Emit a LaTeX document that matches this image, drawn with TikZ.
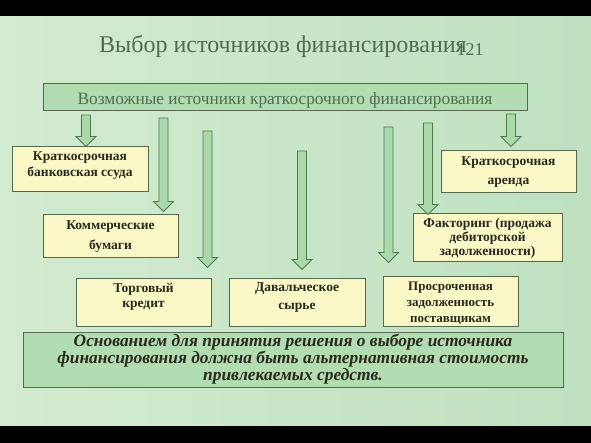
\documentclass[tikz,border=0pt]{standalone}
\usepackage{fontspec}
\setmainfont{Liberation Serif}
\usetikzlibrary{calc}
\definecolor{bgA}{HTML}{D3EBCF}
\definecolor{bgB}{HTML}{BFE1C0}
\definecolor{cream}{HTML}{FBF8C8}
\definecolor{gbox}{HTML}{B2DDB2}
\definecolor{edge}{HTML}{55694F}
\definecolor{arrfill}{HTML}{ABD9AB}
\definecolor{arredge}{HTML}{4E7A4E}
\definecolor{titlecol}{HTML}{4F6B50}
\definecolor{txt}{HTML}{2A281B}
\tikzset{
  cbox/.style={draw=edge, line width=1pt, fill=cream, inner sep=0pt},
  gbx/.style={draw=edge, line width=1pt, fill=gbox, inner sep=0pt},
  btext/.style={align=center, text=txt, inner sep=0pt},
  blockarrow/.style={draw=arredge, line width=0.9pt, fill=arrfill, line join=miter},
}
\newcommand{\blockarr}[3]{%
  \path[blockarrow] let \p1=(#1), \p2=(#2.north) in
    (\x1-4.5pt,\y1) -- (\x1+4.5pt,\y1) -- (\x1+4.5pt,\y2+#3pt+10pt)
    -- (\x1+10pt,\y2+#3pt+10pt) -- (\x1,\y2+#3pt)
    -- (\x1-10pt,\y2+#3pt+10pt) -- (\x1-4.5pt,\y2+#3pt+10pt) -- cycle;
}
\begin{document}
\begin{tikzpicture}[x=1pt,y=-1pt]
\useasboundingbox (0,0) rectangle (591,443);
\fill[black] (0,0) rectangle (591,443);
\shade[left color=bgA, right color=bgB] (0,16.5) rectangle (591,425);

% title
\node[anchor=base, text=titlecol, font=\fontsize{24}{28}\selectfont] (title) at (283,53) {Выбор источников финансирования};
\node[anchor=base, text=titlecol, font=\fontsize{18}{20}\selectfont] (num) at (470,55.5) {121};

% top box
\node[gbx, minimum width=484pt, minimum height=27pt] (top) at (285,97.5) {};
\node[text=titlecol, font=\fontsize{17.3}{19}\selectfont, anchor=base, inner sep=0pt] (toptext) at (285,104.5) {Возможные источники краткосрочного финансирования};

% source boxes
\node[cbox, minimum width=136pt, minimum height=45pt] (b1) at (80,169.5) {};
\node[btext, font=\bfseries\fontsize{13.5}{16}\selectfont] (t1) at ([yshift=4pt]b1.center) {Краткосрочная\\банковская ссуда};

\node[cbox, minimum width=135pt, minimum height=43pt] (b2) at (110.5,236.5) {};
\node[btext, font=\bfseries\fontsize{13.5}{20}\selectfont] (t2) at (b2.center) {Коммерческие\\бумаги};

\node[cbox, minimum width=135pt, minimum height=47pt] (b3) at (143.5,302.5) {};
\node[btext, font=\bfseries\fontsize{13.5}{15}\selectfont] (t3) at ([yshift=6pt]b3.center) {Торговый\\кредит};

\node[cbox, minimum width=136pt, minimum height=47pt] (b4) at (297,302.5) {};
\node[btext, font=\bfseries\fontsize{13.5}{18}\selectfont] (t4) at ([yshift=4.5pt]b4.center) {Давальческое\\сырье};

\node[cbox, minimum width=135pt, minimum height=49pt] (b5) at (450.5,301.5) {};
\node[btext, font=\bfseries\fontsize{13}{16}\selectfont] (t5) at ([yshift=-2pt]b5.center) {Просроченная\\задолженность\\поставщикам};

\node[cbox, minimum width=135pt, minimum height=42pt] (b6) at (508.5,172) {};
\node[btext, font=\bfseries\fontsize{13.5}{19}\selectfont] (t6) at (b6.center) {Краткосрочная\\аренда};

\node[cbox, minimum width=149pt, minimum height=48pt] (b7) at (487.5,238) {};
\node[btext, font=\bfseries\fontsize{13.5}{14}\selectfont] (t7) at (b7.center) {Факторинг (продажа\\дебиторской\\задолженности)};

% conclusion box
\node[gbx, minimum width=540pt, minimum height=55pt] (bottom) at (293,359.5) {};
\node[btext, font=\bfseries\itshape\fontsize{17.4}{17}\selectfont] (tb) at (bottom.center) {Основанием для принятия решения о выборе источника\\финансирования должна быть альтернативная стоимость\\привлекаемых средств.};

% arrow starts
\coordinate (s1) at (86,115);
\coordinate (s2) at (163.5,118);
\coordinate (s3) at (207.5,131);
\coordinate (s4) at (302,151);
\coordinate (s5) at (388.5,127);
\coordinate (s6) at (428,123);
\coordinate (s7) at (511,114);

\blockarr{s1}{b1}{0}
\blockarr{s2}{b2}{3}
\blockarr{s3}{b3}{11}
\blockarr{s4}{b4}{9}
\blockarr{s5}{b5}{14}
\blockarr{s6}{b7}{-1}
\blockarr{s7}{b6}{4}
\end{tikzpicture}
\end{document}
